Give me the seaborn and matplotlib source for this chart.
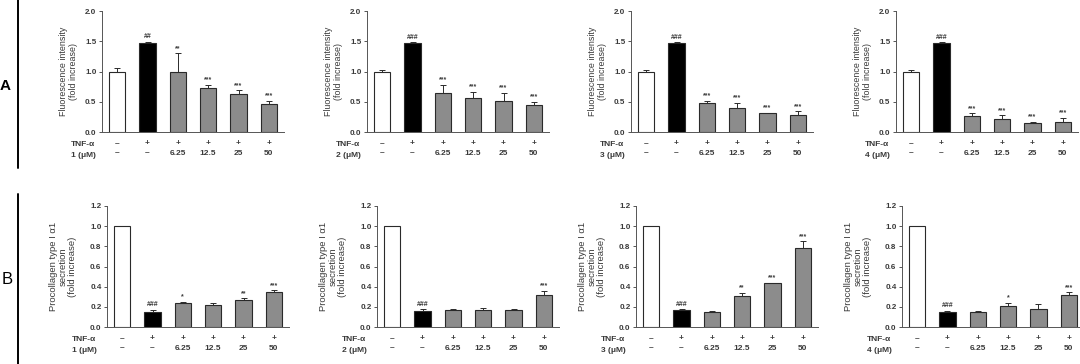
import numpy as np
import pandas as pd
import matplotlib
matplotlib.use("Agg")
import matplotlib.pyplot as plt
import matplotlib.transforms as mtransforms
import seaborn as sns

# Categories (x positions) and tick label rows
groups = ["ctrl", "tnf", "d1", "d2", "d3", "d4"]
tnf_row = ["–", "+", "+", "+", "+", "+"]
dose_row = ["–", "–", "6.25", "12.5", "25", "50"]
compounds = ["1", "2", "3", "4"]

# Row A: fluorescence intensity (mean, upper error)
fluo_mean = [
    [1.00, 1.47, 1.00, 0.73, 0.62, 0.46],
    [1.00, 1.47, 0.65, 0.57, 0.51, 0.44],
    [1.00, 1.47, 0.48, 0.40, 0.31, 0.28],
    [1.00, 1.47, 0.26, 0.22, 0.15, 0.165],
]
fluo_err = [
    [0.06, 0.02, 0.30, 0.05, 0.07, 0.06],
    [0.03, 0.01, 0.13, 0.09, 0.14, 0.06],
    [0.03, 0.01, 0.04, 0.08, 0.01, 0.06],
    [0.02, 0.01, 0.05, 0.055, 0.015, 0.065],
]
fluo_sig = [
    ["", "##", "**", "***", "***", "***"],
    ["", "###", "***", "***", "***", "***"],
    ["", "###", "***", "***", "***", "***"],
    ["", "###", "***", "***", "***", "***"],
]

# Row B: procollagen type I alpha1 secretion
pro_mean = [
    [1.00, 0.15, 0.24, 0.218, 0.264, 0.347],
    [1.00, 0.162, 0.169, 0.172, 0.169, 0.317],
    [1.00, 0.165, 0.152, 0.304, 0.433, 0.787],
    [1.00, 0.149, 0.152, 0.208, 0.182, 0.317],
]
pro_err = [
    [0.005, 0.02, 0.01, 0.017, 0.02, 0.017],
    [0.005, 0.013, 0.012, 0.013, 0.006, 0.04],
    [0.005, 0.01, 0.007, 0.036, 0.004, 0.063],
    [0.005, 0.013, 0.005, 0.03, 0.048, 0.027],
]
pro_sig = [
    ["", "###", "*", "", "**", "***"],
    ["", "###", "", "", "", "***"],
    ["", "###", "", "**", "***", "***"],
    ["", "###", "", "*", "", "***"],
]

bar_colors = {"ctrl": "white", "tnf": "black", "d1": "#8c8c8c", "d2": "#8c8c8c",
              "d3": "#8c8c8c", "d4": "#8c8c8c"}
TXT = "#3a3a3a"

sns.set_theme(style="white")
plt.rcParams["font.family"] = ["Liberation Sans", "DejaVu Sans"]
plt.rcParams["font.weight"] = "bold"

fig = plt.figure(figsize=(10.8, 3.64), dpi=100)

W, H = 1080.0, 364.0
a_lefts = [102, 367, 631, 896]
b_lefts = [107, 377, 636, 902]
ax_w = 182


def draw_panel(ax, means, errs, sigs, ymax, step, ylabel, comp, lab_off,
               ylab_size, ylab_pad):
    df = pd.DataFrame({"group": groups, "value": means})
    sns.barplot(data=df, x="group", y="value", hue="group", palette=bar_colors,
                order=groups, width=0.53, edgecolor="#2a2a2a", linewidth=0.8,
                legend=False, ax=ax)
    xs = np.arange(len(groups))
    ax.errorbar(xs, means, yerr=[np.zeros(len(errs)), errs], fmt="none",
                ecolor="#2a2a2a", elinewidth=0.7, capsize=2.2, capthick=0.7)
    for x, m, e, s in zip(xs, means, errs, sigs):
        if s:
            ax.text(x, m + e + ymax * 0.012, s, ha="center", va="bottom",
                    fontsize=5, color=TXT)
    ax.set_xlim(-0.5, 5.5)
    ax.set_ylim(0, ymax)
    ticks = np.arange(0, ymax + 1e-9, step)
    ax.set_yticks(ticks)
    ax.set_yticklabels([f"{v:.1f}" for v in ticks])
    ax.set_xticks(xs)
    ax.set_xticklabels([f"{t}\n{d}" for t, d in zip(tnf_row, dose_row)],
                       linespacing=1.45)
    ax.set_xlabel("")
    ax.set_ylabel(ylabel, fontsize=ylab_size, color=TXT, linespacing=1.1,
                  labelpad=ylab_pad)
    ax.tick_params(axis="y", labelsize=5.8, colors=TXT, length=2, width=0.6,
                   direction="out", left=True, pad=2)
    ax.tick_params(axis="x", labelsize=6, colors=TXT, length=0, pad=6)
    for sp in ["top", "right"]:
        ax.spines[sp].set_visible(False)
    for sp in ["left", "bottom"]:
        ax.spines[sp].set_color("#555555")
        ax.spines[sp].set_linewidth(0.7)
    # row labels for the x ticks
    trans = mtransforms.blended_transform_factory(
        mtransforms.offset_copy(ax.transAxes, fig=fig, x=-lab_off / 100 * 72, units="points"),
        ax.transAxes)
    ax.text(0, -0.1, "TNF-α", transform=trans, ha="left", va="center",
            fontsize=6, color=TXT)
    ax.text(0, -0.195, f"{comp} (μM)", transform=trans, ha="left", va="center",
            fontsize=6, color=TXT)


for i in range(4):
    ax = fig.add_axes([a_lefts[i] / W, (H - 132) / H, ax_w / W, 121 / H])
    draw_panel(ax, fluo_mean[i], fluo_err[i], fluo_sig[i], 2.0, 0.5,
               "Fluorescence intensity\n(fold increase)", compounds[i], 31,
               6.4, 5)
    ax = fig.add_axes([b_lefts[i] / W, (H - 327) / H, ax_w / W, 121 / H])
    draw_panel(ax, pro_mean[i], pro_err[i], pro_sig[i], 1.2, 0.2,
               "Procollagen type I α1\nsecretion\n(fold increase)", compounds[i], 35,
               6.8, 9)

# Panel letters and separator lines
fig.text(5 / W, 1 - 86 / H, "A", fontsize=11, fontweight="bold", color="black",
         ha="center", va="center")
fig.text(7 / W, 1 - 280 / H, "B", fontsize=12, fontweight="normal", color="black",
         ha="center", va="center")
fig.add_artist(plt.Line2D([17.5 / W, 17.5 / W], [1 - 0 / H, 1 - 168 / H],
                          color="black", linewidth=1.4))
fig.add_artist(plt.Line2D([17.5 / W, 17.5 / W], [1 - 194 / H, 0],
                          color="black", linewidth=1.4))

fig.savefig("out.png", dpi=100, facecolor="white")
